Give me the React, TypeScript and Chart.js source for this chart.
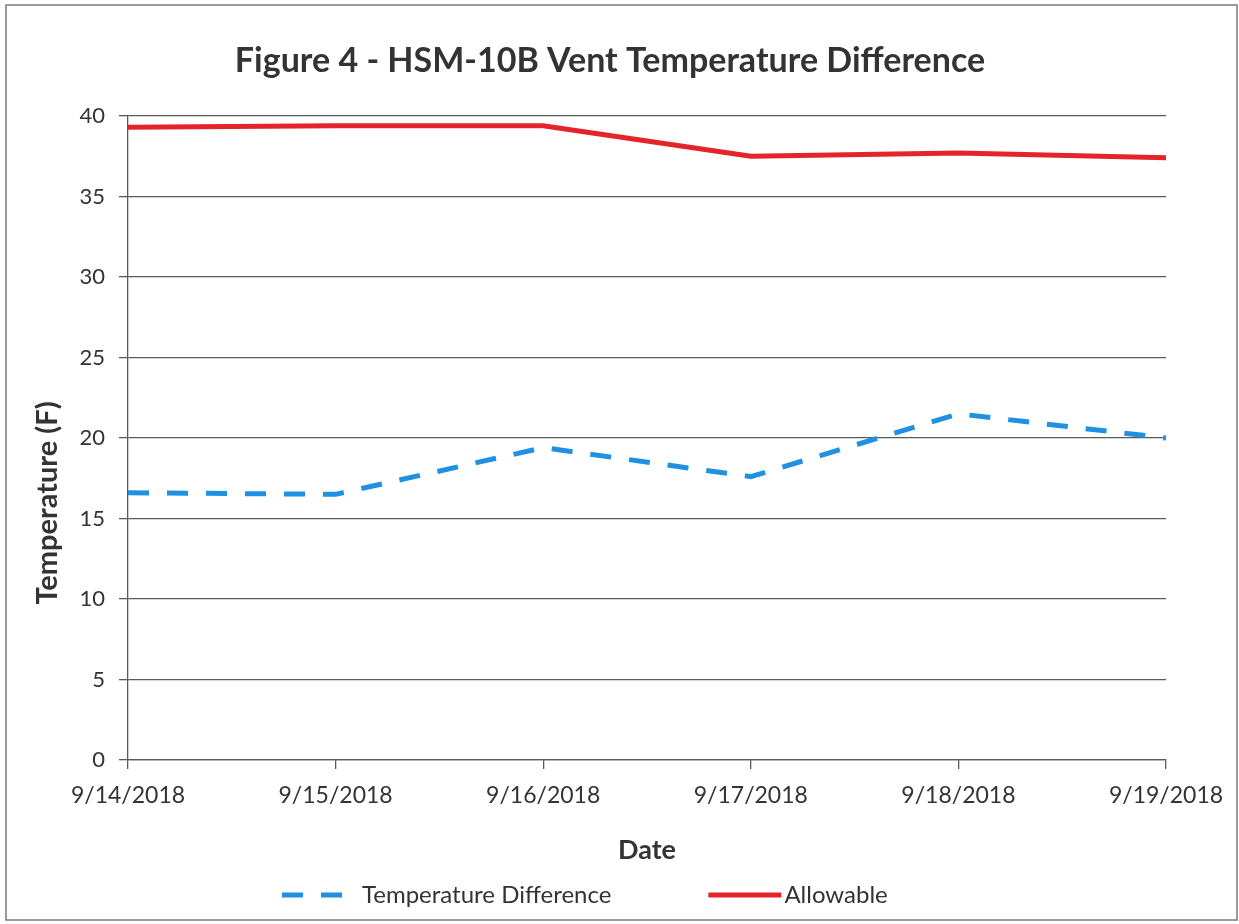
import React, { useEffect, useRef } from 'react';
import { Chart, registerables } from 'chart.js';

Chart.register(...registerables);

const categories = ['9/14/2018', '9/15/2018', '9/16/2018', '9/17/2018', '9/18/2018', '9/19/2018'];
const temperatureDifference = [16.6, 16.5, 19.4, 17.6, 21.5, 20.0];
const allowable = [39.3, 39.4, 39.4, 37.5, 37.7, 37.4];
const yMin = 0;
const yMax = 40;
const yStep = 5;

const chartTitle = 'Figure 4 - HSM-10B Vent Temperature Difference';
const yAxisTitle = 'Temperature (F)';
const xAxisTitle = 'Date';

const FONT = 'Lato, "Open Sans", "Liberation Sans", sans-serif';
const TEXT = '#333333';
const GRID = '#5a5a5a';
const BLUE = '#1f90e2';
const RED = '#e5232b';

const bgPlugin = {
  id: 'bg',
  beforeDraw(chart: any) {
    const { ctx, width, height } = chart;
    ctx.save();
    ctx.fillStyle = '#ffffff';
    ctx.fillRect(0, 0, width, height);
    ctx.restore();
  },
};

const framePlugin = {
  id: 'frame',
  afterDraw(chart: any) {
    const { ctx } = chart;
    ctx.save();
    ctx.strokeStyle = '#7a7a7a';
    ctx.lineWidth = 1.5;
    ctx.strokeRect(6, 5, 1231, 915);
    ctx.restore();
  },
};

const titlesPlugin = {
  id: 'titles',
  afterDraw(chart: any) {
    const { ctx } = chart;
    ctx.save();
    ctx.fillStyle = TEXT;
    ctx.textAlign = 'center';
    ctx.textBaseline = 'alphabetic';
    ctx.font = `bold 34px ${FONT}`;
    ctx.fillText(chartTitle, 610, 72);
    ctx.translate(57, 503);
    ctx.rotate(-Math.PI / 2);
    ctx.font = `bold 29px ${FONT}`;
    ctx.fillText(yAxisTitle, 0, 0);
    ctx.restore();
  },
};

const legendPlugin = {
  id: 'customLegend',
  afterDraw(chart: any) {
    const { ctx } = chart;
    const ds = chart.data.datasets;
    const y = 895;
    const samples = [63, 73];
    const textGaps = [17, 3];
    const itemGap = 97;
    let x = 282;
    ctx.save();
    ctx.font = `24px ${FONT}`;
    ctx.textBaseline = 'middle';
    ctx.textAlign = 'left';
    ds.forEach((d: any, i: number) => {
      ctx.beginPath();
      ctx.strokeStyle = d.borderColor;
      ctx.lineWidth = d.borderWidth;
      ctx.setLineDash(d.borderDash || []);
      ctx.lineCap = 'butt';
      ctx.moveTo(x, y);
      ctx.lineTo(x + samples[i], y);
      ctx.stroke();
      ctx.setLineDash([]);
      x += samples[i] + textGaps[i];
      ctx.fillStyle = TEXT;
      ctx.fillText(d.label, x, y);
      x += ctx.measureText(d.label).width + itemGap;
    });
    ctx.restore();
  },
};

export default function App() {
  const ref = useRef<HTMLCanvasElement>(null);

  useEffect(() => {
    if (!ref.current) return;
    const chart = new Chart(ref.current, {
      type: 'line',
      data: {
        labels: categories,
        datasets: [
          {
            label: 'Temperature Difference',
            data: temperatureDifference,
            borderColor: BLUE,
            backgroundColor: BLUE,
            borderWidth: 5,
            borderDash: [21, 18],
            pointRadius: 0,
            tension: 0,
            fill: false,
          },
          {
            label: 'Allowable',
            data: allowable,
            borderColor: RED,
            backgroundColor: RED,
            borderWidth: 5,
            pointRadius: 0,
            tension: 0,
            fill: false,
          },
        ],
      },
      options: {
        responsive: false,
        animation: false,
        devicePixelRatio: 1,
        layout: { padding: { left: 24, right: 73, top: 116, bottom: 50 } },
        plugins: {
          legend: { display: false },
          tooltip: { enabled: false },
          title: { display: false },
        },
        scales: {
          x: {
            type: 'category',
            offset: false,
            grid: {
              display: true,
              drawOnChartArea: false,
              drawTicks: true,
              tickLength: 9,
              color: GRID,
              lineWidth: 1.3,
            },
            border: { display: true, color: GRID, width: 1.3 },
            ticks: {
              color: TEXT,
              font: { family: FONT, size: 23 },
              padding: 13,
              maxRotation: 0,
              autoSkip: false,
            },
            title: {
              display: true,
              text: xAxisTitle,
              color: TEXT,
              font: { family: FONT, size: 27, weight: 'bold' },
              padding: { top: 0, bottom: 8 },
            },
            afterFit: (s: any) => {
              s.height = 114;
            },
          },
          y: {
            min: yMin,
            max: yMax,
            grid: {
              color: GRID,
              lineWidth: 1.3,
              drawTicks: true,
              tickLength: 9,
            },
            border: { display: true, color: GRID, width: 1.3 },
            ticks: {
              stepSize: yStep,
              color: TEXT,
              font: { family: FONT, size: 22 },
              padding: 14,
            },
            title: { display: false },
            afterFit: (s: any) => {
              s.width = 104;
            },
          },
        },
      },
      plugins: [bgPlugin, framePlugin, titlesPlugin, legendPlugin],
    } as any);
    return () => chart.destroy();
  }, []);

  return (
    <div style={{ position: 'fixed', left: 0, top: 0, width: 1239, height: 924, background: '#fff' }}>
      <canvas ref={ref} width={1239} height={924} style={{ display: 'block' }} />
    </div>
  );
}
